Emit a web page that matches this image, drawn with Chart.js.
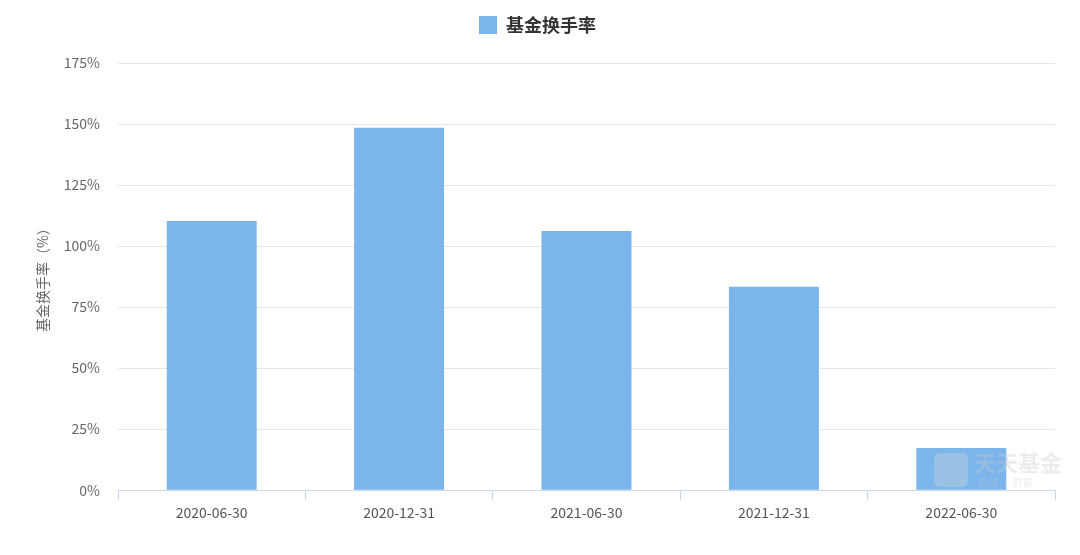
<!DOCTYPE html>
<html>
<head>
<meta charset="utf-8">
<script src="https://cdn.jsdelivr.net/npm/chart.js@4"></script>
<style>
  html, body { margin: 0; padding: 0; background: #fff; }
  #wrap { width: 1080px; height: 555px; position: relative; }
</style>
</head>
<body>
<div id="wrap"><canvas id="turnover-chart"></canvas></div>
<script>
// data
const periods = ['2020-06-30', '2020-12-31', '2021-06-30', '2021-12-31', '2022-06-30'];
const turnoverRates = [110.3, 148.5, 106.2, 83.3, 17.3];
const seriesName = '基金换手率';
const yAxisTitle = '基金换手率（%）';

const FONT = '"Noto Sans CJK SC", "Noto Sans", sans-serif';

// push the plot area down below the legend
const legendGap = {
    id: 'legendGap',
    beforeInit(chart) {
        const origFit = chart.legend.fit;
        chart.legend.fit = function () {
            origFit.bind(chart.legend)();
            this.height += 19;
        };
    }
};

// faint watermark in the lower right corner
const watermark = {
    id: 'watermark',
    afterDraw(chart) {
        const ctx = chart.ctx;
        ctx.save();
        ctx.globalAlpha = 0.35;
        ctx.fillStyle = '#d8d8d8';
        ctx.beginPath();
        ctx.roundRect(934, 453, 34, 34, 6);
        ctx.fill();
        ctx.fillStyle = '#c8c8c8';
        ctx.font = 'bold 22px "Noto Sans CJK SC"';
        ctx.textBaseline = 'middle';
        ctx.fillText('天天基金', 974, 463);
        ctx.font = '10px "Noto Sans CJK SC"';
        ctx.fillText('稳健 · 财富', 978, 482);
        ctx.restore();
    }
};

new Chart(document.getElementById('turnover-chart'), {
    type: 'bar',
    data: {
        labels: periods,
        datasets: [{
            label: seriesName,
            data: turnoverRates,
            backgroundColor: '#7cb5ec',
            borderWidth: 0,
            categoryPercentage: 0.48,
            barPercentage: 1.0
        }]
    },
    options: {
        responsive: true,
        maintainAspectRatio: false,
        animation: false,
        layout: { padding: { top: 6, right: 25, bottom: 30, left: 20 } },
        plugins: {
            legend: {
                position: 'top',
                labels: {
                    boxWidth: 18,
                    boxHeight: 18,
                    padding: 10,
                    color: '#333',
                    font: { family: FONT, size: 18, weight: 'bold' }
                }
            },
            tooltip: { enabled: false }
        },
        scales: {
            x: {
                grid: {
                    display: true,
                    drawOnChartArea: false,
                    offset: true,
                    tickLength: 10,
                    color: '#ccd6eb'
                },
                border: { color: '#ccd6eb' },
                ticks: {
                    color: '#555',
                    padding: 4,
                    font: { family: FONT, size: 14 }
                }
            },
            y: {
                min: 0,
                max: 175,
                afterFit(scale) { scale.width = 98; },
                ticks: {
                    stepSize: 25,
                    color: '#666',
                    padding: 18,
                    font: { family: FONT, size: 14 },
                    callback: v => v + '%'
                },
                grid: { color: '#e6e6e6', drawTicks: false },
                border: { display: false },
                title: {
                    display: true,
                    text: yAxisTitle,
                    color: '#666',
                    padding: { top: 14, bottom: 0 },
                    font: { family: FONT, size: 14 }
                }
            }
        }
    },
    plugins: [legendGap, watermark]
});
</script>
</body>
</html>
